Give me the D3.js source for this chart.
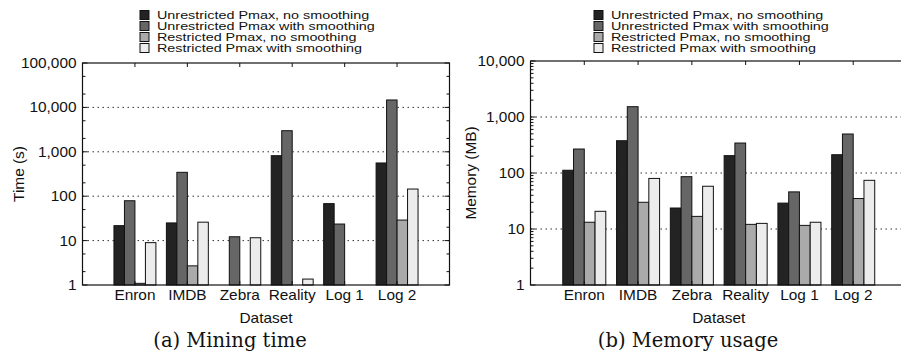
<!DOCTYPE html>
<html lang="en">
<head>
<meta charset="UTF-8">
<title>Mining time and memory usage</title>
<script src="https://d3js.org/d3.v7.min.js"></script>
<style>
    body { margin: 0; background: #fff; }
    svg { display: block; }
    .sans { font-family: "Liberation Sans", Arial, sans-serif; fill: #111; }
    .serif { font-family: "DejaVu Serif", serif; fill: #111; }
</style>
</head>
<body>
<div id="chart"></div>
<script>
    // Data
    const categories = ["Enron", "IMDB", "Zebra", "Reality", "Log 1", "Log 2"];
    const seriesNames = [
        "Unrestricted Pmax, no smoothing",
        "Unrestricted Pmax with smoothing",
        "Restricted Pmax, no smoothing",
        "Restricted Pmax with smoothing"
    ];
    const seriesColors = ["#232323", "#666666", "#aaaaaa", "#ececec"];

    // (a) mining time in seconds (null = no bar)
    const timeUnrestrictedNoSmooth = [21.7, 25, null, 817, 68, 560];
    const timeUnrestrictedSmooth   = [79, 345, 12.2, 2985, 23.6, 14700];
    const timeRestrictedNoSmooth   = [1.09, 2.7, null, null, null, 29];
    const timeRestrictedSmooth     = [9, 26, 11.6, 1.36, null, 145];
    const timeTicks = [1, 10, 100, 1000, 10000, 100000];

    // (b) memory usage in MB
    const memUnrestrictedNoSmooth = [112, 377, 23.7, 204, 29, 212];
    const memUnrestrictedSmooth   = [268, 1528, 86, 343, 46, 497];
    const memRestrictedNoSmooth   = [13.2, 30, 16.8, 12.1, 11.6, 35];
    const memRestrictedSmooth     = [20.7, 80, 58, 12.6, 13.2, 74];
    const memTicks = [1, 10, 100, 1000, 10000];

    const W = 901, H = 358;
    const svg = d3.select("#chart").append("svg").attr("width", W).attr("height", H);

    // the original sans text is a bit wider than Liberation Sans, so stretch it
    function label(g, x, y, str, anchor, size, rotate, sx = 1.1) {
        return g.append("text")
            .attr("class", "sans")
            .attr("transform", `translate(${x},${y})` + (rotate ? " rotate(-90)" : "") + ` scale(${sx},1)`)
            .attr("text-anchor", anchor)
            .attr("font-size", size)
            .text(str);
    }

    function drawPanel(opt) {
        const g = svg.append("g");
        const { left, right, top, bottom } = opt;

        const x = d3.scaleLinear().domain([0, categories.length + 1]).range([left, right]);
        const y = d3.scaleLog().domain(d3.extent(opt.ticks)).range([bottom, top]);
        const step = x(1) - x(0);
        const barW = step * 0.2;

        // dotted grid at inner decades
        g.selectAll(".grid").data(opt.ticks.slice(1, -1)).enter().append("line")
            .attr("x1", left).attr("x2", right)
            .attr("y1", d => y(d)).attr("y2", d => y(d))
            .attr("stroke", "#333").attr("stroke-width", 1)
            .attr("stroke-dasharray", "1.5,3.5");

        // bars
        opt.series.forEach((vals, s) => {
            g.selectAll(null).data(vals.map((v, i) => ({ v, i })).filter(d => d.v != null))
                .enter().append("rect")
                .attr("x", d => x(d.i + 1) - 2 * barW + s * barW)
                .attr("width", barW)
                .attr("y", d => y(d.v))
                .attr("height", d => bottom - y(d.v))
                .attr("fill", seriesColors[s])
                .attr("stroke", "#111").attr("stroke-width", 1);
        });

        // minor + major ticks on left and right borders
        const minors = [];
        for (let dec = opt.ticks[0]; dec < opt.ticks[opt.ticks.length - 1]; dec *= 10) {
            opt.minor.forEach(m => minors.push(dec * m));
        }
        [[left, 1], [right, -1]].forEach(([xx, dir]) => {
            g.selectAll(null).data(opt.ticks).enter().append("line")
                .attr("x1", xx).attr("x2", xx + dir * 5)
                .attr("y1", d => y(d)).attr("y2", d => y(d))
                .attr("stroke", "#111");
            g.selectAll(null).data(minors).enter().append("line")
                .attr("x1", xx).attr("x2", xx + dir * 3)
                .attr("y1", d => y(d)).attr("y2", d => y(d))
                .attr("stroke", "#111");
        });
        // category ticks top and bottom
        [[top, 1], [bottom, -1]].forEach(([yy, dir]) => {
            g.selectAll(null).data(categories).enter().append("line")
                .attr("x1", (d, i) => x(i + 1)).attr("x2", (d, i) => x(i + 1))
                .attr("y1", yy).attr("y2", yy + dir * 4)
                .attr("stroke", "#111");
        });

        // frame
        g.append("rect")
            .attr("x", left).attr("y", top)
            .attr("width", right - left).attr("height", bottom - top)
            .attr("fill", "none").attr("stroke", "#111").attr("stroke-width", 1.2);

        // tick labels
        opt.ticks.forEach(t => label(g, left - 6, y(t) + 5, d3.format(",")(t), "end", 14));
        categories.forEach((c, i) => label(g, x(i + 1), bottom + 15, c, "middle", 14));

        label(g, (left + right) / 2, bottom + 38, "Dataset", "middle", 14);
        label(g, opt.yLabelX, (top + bottom) / 2, opt.yLabel, "middle", 14, true);

        g.append("text").attr("class", "serif")
            .attr("x", opt.captionX).attr("y", 347)
            .attr("text-anchor", "middle").attr("font-size", 19.5)
            .text(opt.caption);

        // legend
        seriesNames.forEach((name, s) => {
            const ly = 15 + s * 11;
            g.append("rect")
                .attr("x", opt.legendX).attr("y", ly - 4.5)
                .attr("width", 9).attr("height", 9)
                .attr("fill", seriesColors[s]).attr("stroke", "#111");
            label(g, opt.legendX + 17, ly + 4, name, "start", 11.5, false, 1.25);
        });
    }

    drawPanel({
        left: 82.5, right: 449.5, top: 63, bottom: 285,
        ticks: timeTicks, minor: [2, 5],
        series: [timeUnrestrictedNoSmooth, timeUnrestrictedSmooth, timeRestrictedNoSmooth, timeRestrictedSmooth],
        yLabel: "Time (s)", yLabelX: 24,
        caption: "(a) Mining time", captionX: 230,
        legendX: 140
    });

    drawPanel({
        left: 530.5, right: 907, top: 61, bottom: 285,
        ticks: memTicks, minor: [2, 3, 4, 5, 6, 7, 8, 9],
        series: [memUnrestrictedNoSmooth, memUnrestrictedSmooth, memRestrictedNoSmooth, memRestrictedSmooth],
        yLabel: "Memory (MB)", yLabelX: 476,
        caption: "(b) Memory usage", captionX: 688,
        legendX: 594
    });
</script>
</body>
</html>
